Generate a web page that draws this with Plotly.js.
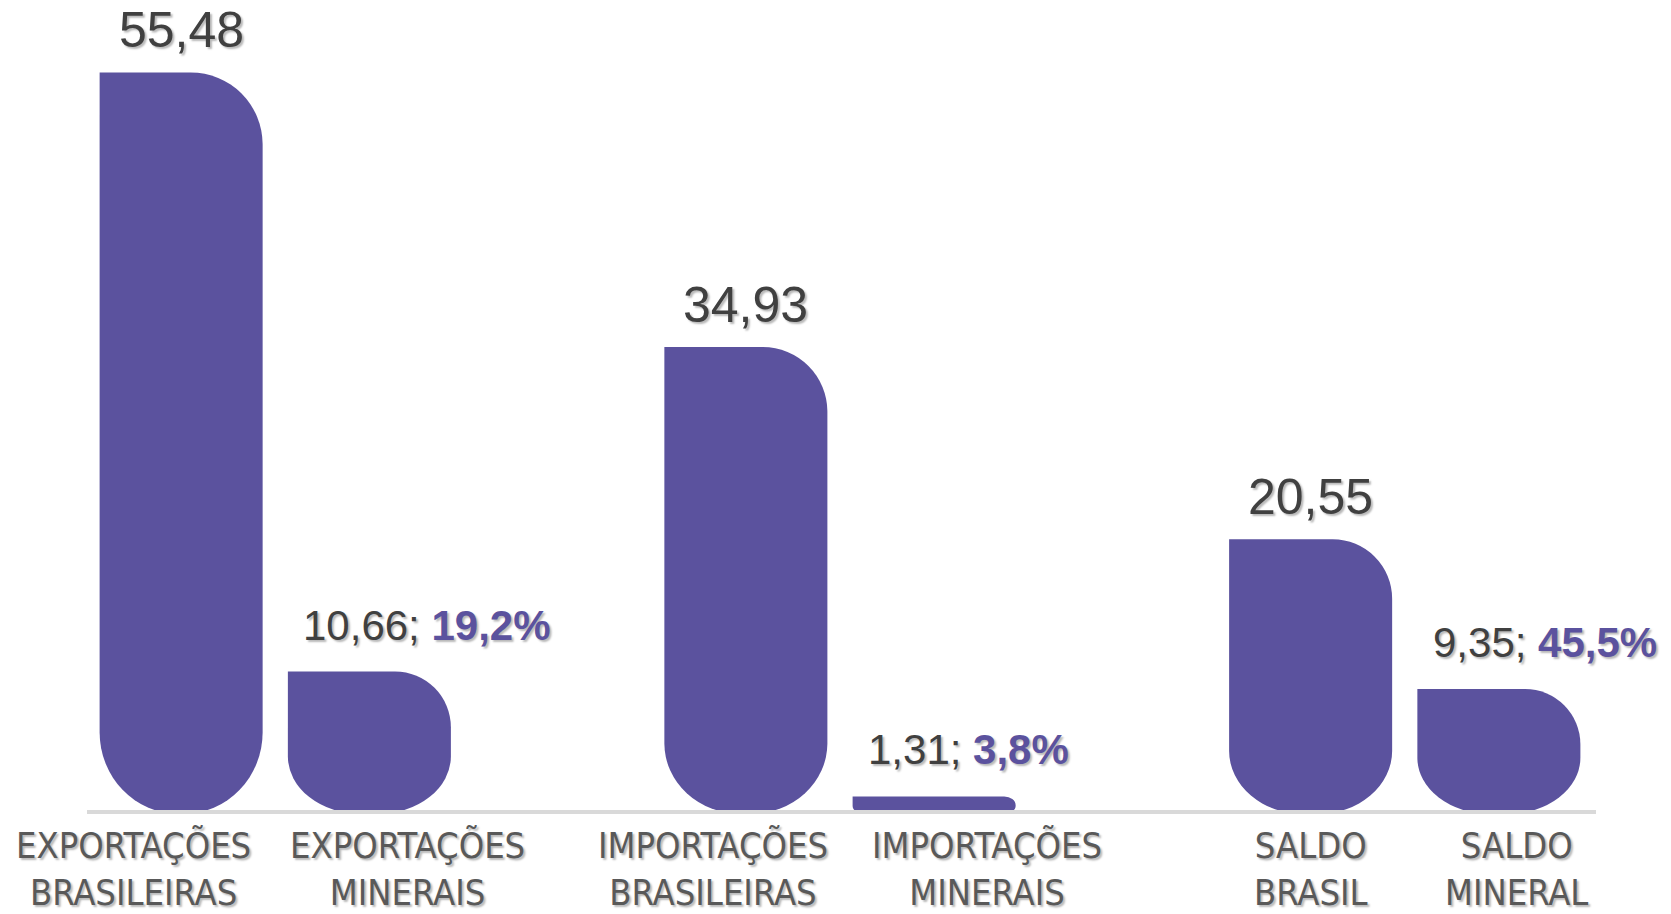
<!DOCTYPE html>
<html>
<head>
<meta charset="utf-8">
<script src="https://cdn.plot.ly/plotly-3.0.1.min.js"></script>
<style>
  html, body { margin: 0; padding: 0; background: #ffffff; }
  #chart { width: 1671px; height: 914px; }
</style>
</head>
<body>
<div id="chart"></div>
<script>
// ---- data ----
const groups = ["EXPORTAÇÕES", "IMPORTAÇÕES", "SALDO"];
const brasilValues = [55.48, 34.93, 20.55];
const mineralValues = [10.66, 1.31, 9.35];
const mineralShares = ["19,2%", "3,8%", "45,5%"];
const brasilLabels = ["EXPORTAÇÕES<br>BRASILEIRAS", "IMPORTAÇÕES<br>BRASILEIRAS", "SALDO<br>BRASIL"];
const mineralLabels = ["EXPORTAÇÕES<br>MINERAIS", "IMPORTAÇÕES<br>MINERAIS", "SALDO<br>MINERAL"];

// ---- style ----
const purple = "#5B529E";
const darkText = "#404040";
const greyText = "#595959";
const narrow = "'Liberation Sans Narrow', 'Arial Narrow', 'DejaVu Sans Condensed', sans-serif";
const regular = "'Liberation Sans', Arial, sans-serif";
const shadowDark = "2px 2px 2px rgba(0,0,0,0.28)";
const labelShiftBrasil = [-48, -33, 0];
const labelShiftMineral = [38, 53, 18];
const half = 1 / 6;   // offset of each bar from the group centre (2 bars, bargap 1/3)

const fmt = v => v.toFixed(2).replace(".", ",");

const traces = [
  { type: "bar", name: "Brasil", x: groups, y: brasilValues,
    marker: { color: purple, line: { width: 0 } }, hoverinfo: "skip" },
  { type: "bar", name: "Mineral", x: groups, y: mineralValues,
    marker: { color: purple, line: { width: 0 } }, hoverinfo: "skip" }
];

const annotations = [];
groups.forEach((g, i) => {
  annotations.push({
    x: i - half, y: brasilValues[i], xref: "x", yref: "y",
    text: fmt(brasilValues[i]), showarrow: false,
    xanchor: "center", yanchor: "bottom", yshift: 12,
    font: { family: regular, size: 50, color: darkText, shadow: shadowDark }
  });
  annotations.push({
    x: i + half, y: mineralValues[i], xref: "x", yref: "y",
    text: fmt(mineralValues[i]) + "; <b><span style='color:" + purple + "'>" + mineralShares[i] + "</span></b>",
    showarrow: false, xanchor: "left", yanchor: "bottom", yshift: 21, xshift: -68,
    font: { family: regular, size: 42, color: darkText, shadow: shadowDark }
  });
  annotations.push({
    x: i - half, y: 0, xref: "x", yref: "y",
    text: brasilLabels[i], showarrow: false,
    xanchor: "center", yanchor: "top", yshift: -9, xshift: labelShiftBrasil[i],
    font: { family: narrow, size: 36, color: greyText, shadow: shadowDark }
  });
  annotations.push({
    x: i + half, y: 0, xref: "x", yref: "y",
    text: mineralLabels[i], showarrow: false,
    xanchor: "center", yanchor: "top", yshift: -9, xshift: labelShiftMineral[i],
    font: { family: narrow, size: 36, color: greyText, shadow: shadowDark }
  });
});

const layout = {
  width: 1671, height: 914,
  margin: { l: 87, r: 78, t: 12, b: 100 },
  paper_bgcolor: "#ffffff", plot_bgcolor: "#ffffff",
  showlegend: false,
  barmode: "group", bargap: 1 / 3, bargroupgap: 0.134,
  xaxis: { type: "category", range: [-1 / 3, 2 + 1 / 3], showticklabels: false,
           showgrid: false, zeroline: false, showline: false, ticks: "" },
  yaxis: { range: [0, 60], visible: false, showgrid: false, zeroline: false },
  shapes: [{ type: "line", xref: "paper", yref: "y", x0: 0, x1: 1.002, y0: 0, y1: 0,
             line: { color: "#D9D9D9", width: 8 }, layer: "above" }],
  annotations: annotations
};

function reshapeBars(gd) {
  gd.querySelectorAll(".barlayer .point path").forEach(p => {
    const bb = p.getBBox();
    const x0 = bb.x, x1 = bb.x + bb.width, yT = bb.y, yB = bb.y + bb.height;
    const w = bb.width, h = bb.height;
    if (h <= 0) return;
    const tryy = Math.min(52 + 0.027 * h, h * 0.5);
    const trx = Math.min(52 + 0.027 * h, tryy * 1.3, w / 2);
    const bry = Math.min(52 + 0.04 * h, h * 0.45);
    const brx = Math.min(0.44 * w + 0.01 * h, bry * 1.5, w / 2);
    const d = "M" + x0 + "," + yT +
      "H" + (x1 - trx) +
      "A" + trx + "," + tryy + " 0 0 1 " + x1 + "," + (yT + tryy) +
      "V" + (yB - bry) +
      "A" + brx + "," + bry + " 0 0 1 " + (x1 - brx) + "," + yB +
      "H" + (x0 + brx) +
      "A" + brx + "," + bry + " 0 0 1 " + x0 + "," + (yB - bry) + "Z";
    p.setAttribute("d", d);
  });
}

Plotly.newPlot("chart", traces, layout, { staticPlot: true, displayModeBar: false })
  .then(gd => reshapeBars(gd));
</script>
</body>
</html>
